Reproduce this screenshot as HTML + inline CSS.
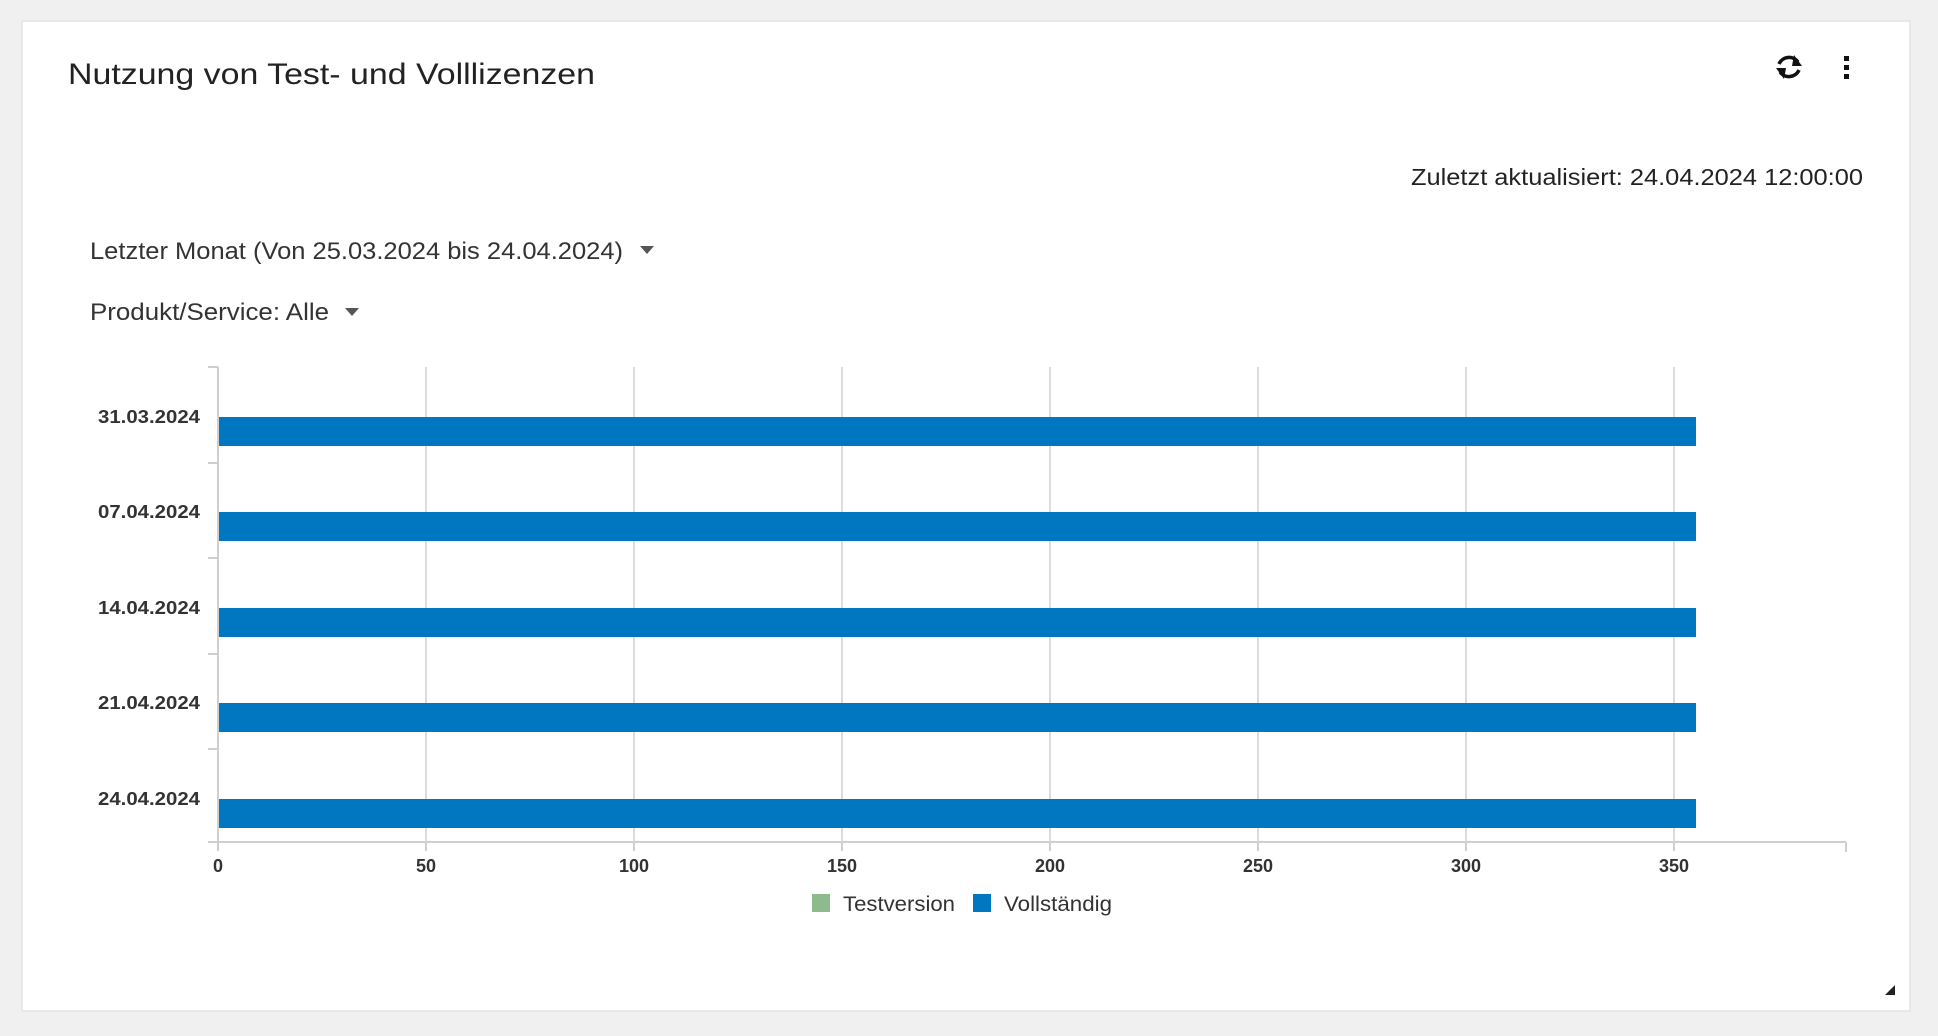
<!DOCTYPE html>
<html><head><meta charset="utf-8"><style>
html,body{margin:0;padding:0;background:#f0f0f0;}
svg{display:block;}
text{font-family:"Liberation Sans",Arial,sans-serif;}
</style></head><body>
<svg width="1938" height="1036" viewBox="0 0 1938 1036" xmlns="http://www.w3.org/2000/svg">
<rect x="0" y="0" width="1938" height="1036" fill="#f0f0f0"/>
<rect x="22" y="21" width="1888" height="990" fill="#fff" stroke="#e2e2e2" stroke-width="1.5"/>
<text x="68" y="84" font-size="30" fill="#222" textLength="527" lengthAdjust="spacingAndGlyphs">Nutzung von Test- und Volllizenzen</text>
<g transform="translate(1789,67)" fill="none" stroke="#111" stroke-width="3.5">
<path d="M-10,-3 A11,11 0 0 1 9,-5"/>
<path d="M10,3 A11,11 0 0 1 -9,5"/>
</g>
<polygon points="5,-12 13,-1 3,-1" transform="translate(1789,67)" fill="#111"/>
<polygon points="-5,12 -13,1 -3,1" transform="translate(1789,67)" fill="#111"/>
<rect x="1844" y="56" width="5" height="5" fill="#111"/>
<rect x="1844" y="65" width="5" height="5" fill="#111"/>
<rect x="1844" y="74" width="5" height="5" fill="#111"/>
<text x="1863" y="185" font-size="23" fill="#222" text-anchor="end" textLength="452" lengthAdjust="spacingAndGlyphs">Zuletzt aktualisiert: 24.04.2024 12:00:00</text>
<text x="90" y="259" font-size="24" fill="#333" textLength="533" lengthAdjust="spacingAndGlyphs">Letzter Monat (Von 25.03.2024 bis 24.04.2024)</text>
<polygon points="640,246 654,246 647,254" fill="#555"/>
<text x="90" y="320" font-size="24" fill="#333" textLength="239" lengthAdjust="spacingAndGlyphs">Produkt/Service: Alle</text>
<polygon points="345,308 359,308 352,316" fill="#555"/>
<g stroke="#dcdcdc" stroke-width="2">
<line x1="426" y1="367" x2="426" y2="842"/>
<line x1="634" y1="367" x2="634" y2="842"/>
<line x1="842" y1="367" x2="842" y2="842"/>
<line x1="1050" y1="367" x2="1050" y2="842"/>
<line x1="1258" y1="367" x2="1258" y2="842"/>
<line x1="1466" y1="367" x2="1466" y2="842"/>
<line x1="1674" y1="367" x2="1674" y2="842"/>
</g>
<g stroke="#cfcfcf" stroke-width="2">
<line x1="218" y1="367" x2="218" y2="851"/>
<line x1="208" y1="367" x2="218" y2="367"/>
<line x1="208" y1="463" x2="218" y2="463"/>
<line x1="208" y1="558" x2="218" y2="558"/>
<line x1="208" y1="654" x2="218" y2="654"/>
<line x1="208" y1="749" x2="218" y2="749"/>
<line x1="208" y1="842" x2="1846" y2="842"/>
<line x1="1846" y1="842" x2="1846" y2="852"/>
<line x1="426" y1="842" x2="426" y2="851"/>
<line x1="634" y1="842" x2="634" y2="851"/>
<line x1="842" y1="842" x2="842" y2="851"/>
<line x1="1050" y1="842" x2="1050" y2="851"/>
<line x1="1258" y1="842" x2="1258" y2="851"/>
<line x1="1466" y1="842" x2="1466" y2="851"/>
<line x1="1674" y1="842" x2="1674" y2="851"/>
</g>
<g fill="#0077c0">
<rect x="219" y="417" width="1477" height="29"/>
<rect x="219" y="512" width="1477" height="29"/>
<rect x="219" y="608" width="1477" height="29"/>
<rect x="219" y="703" width="1477" height="29"/>
<rect x="219" y="799" width="1477" height="29"/>
</g>
<g font-size="18" font-weight="bold" fill="#333" text-anchor="end">
<text x="200" y="423" textLength="102" lengthAdjust="spacingAndGlyphs">31.03.2024</text>
<text x="200" y="518" textLength="102" lengthAdjust="spacingAndGlyphs">07.04.2024</text>
<text x="200" y="614" textLength="102" lengthAdjust="spacingAndGlyphs">14.04.2024</text>
<text x="200" y="709" textLength="102" lengthAdjust="spacingAndGlyphs">21.04.2024</text>
<text x="200" y="805" textLength="102" lengthAdjust="spacingAndGlyphs">24.04.2024</text>
</g>
<g font-size="18" font-weight="bold" fill="#333" text-anchor="middle">
<text x="218" y="872">0</text>
<text x="426" y="872">50</text>
<text x="634" y="872">100</text>
<text x="842" y="872">150</text>
<text x="1050" y="872">200</text>
<text x="1258" y="872">250</text>
<text x="1466" y="872">300</text>
<text x="1674" y="872">350</text>
</g>
<rect x="812" y="894" width="18" height="18" fill="#8dbb8d"/>
<text x="843" y="911" font-size="21" fill="#333" textLength="112" lengthAdjust="spacingAndGlyphs">Testversion</text>
<rect x="973" y="894" width="18" height="18" fill="#0077c0"/>
<text x="1004" y="911" font-size="21" fill="#333" textLength="108" lengthAdjust="spacingAndGlyphs">Vollständig</text>
<polygon points="1895,985 1895,995 1885,995" fill="#222"/>
</svg>
</body></html>
